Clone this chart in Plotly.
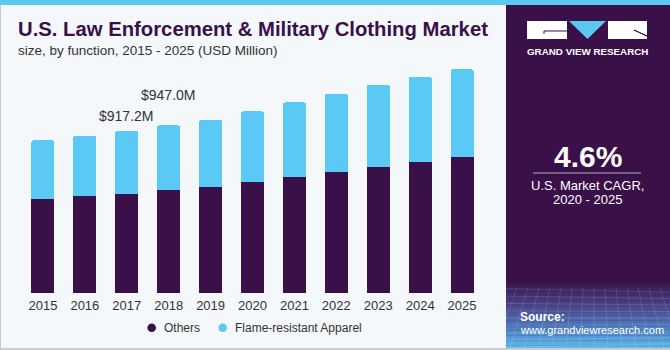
import plotly.graph_objects as go

# ---------------- data ----------------
years = ["2015", "2016", "2017", "2018", "2019", "2020", "2021", "2022", "2023", "2024", "2025"]
others = [531, 546, 561, 580, 599, 627, 657, 685, 714, 740, 766]
flame = [331, 343, 356, 367, 379, 399, 420, 441, 461, 481, 498]
series_names = ["Others", "Flame-resistant Apparel"]
label_years = ["2017", "2018"]
label_values = [917.2, 947.0]
label_texts = ["$917.2M", "$947.0M"]

# ---------------- style ----------------
PURPLE = "#3A1049"
BLUE = "#5BC9F5"
BG = "#F4F8FB"
FONT = "Liberation Sans"

W, H = 670, 350
L, R, T, B = 22, 483, 60, 293  # plot area in pixels
PW, PH = R - L, B - T
YMAX = PH * 5.651


def px(x):
    return (x - L) / PW


def py(y):
    return (B - y) / PH


fig = go.Figure()
fig.add_trace(go.Bar(x=years, y=others, name=series_names[0], marker=dict(color=PURPLE, line=dict(width=0)),
                     showlegend=False))
fig.add_trace(go.Bar(x=years, y=flame, name=series_names[1], marker=dict(color=BLUE, line=dict(width=0),
                     cornerradius=2), showlegend=False))

shapes = []
annotations = []

# top stripe
shapes.append(dict(type="rect", xref="paper", yref="paper", x0=px(0), x1=px(W), y0=py(5), y1=py(0),
                   fillcolor="#5BC8F0", line=dict(width=0), layer="below"))
# right panel
shapes.append(dict(type="rect", xref="paper", yref="paper", x0=px(506), x1=px(W), y0=py(348), y1=py(5),
                   fillcolor="#3A1049", line=dict(width=0), layer="below"))


# gradient at bottom of panel
def lerp(c1, c2, t):
    a = [int(c1[i:i + 2], 16) for i in (1, 3, 5)]
    b = [int(c2[i:i + 2], 16) for i in (1, 3, 5)]
    return "#%02x%02x%02x" % tuple(round(a[k] + (b[k] - a[k]) * t) for k in range(3))


g0, g1 = 283, 348
n = 26
stops = [(0.0, "#3C1650"), (0.35, "#4A4488"), (0.7, "#4E7EC0"), (1.0, "#5BBCEC")]
for i in range(n):
    t = (i + 0.5) / n
    for j in range(len(stops) - 1):
        if stops[j][0] <= t <= stops[j + 1][0]:
            tt = (t - stops[j][0]) / (stops[j + 1][0] - stops[j][0])
            c = lerp(stops[j][1], stops[j + 1][1], tt)
            break
    y0 = g0 + (g1 - g0) * i / n
    y1 = g0 + (g1 - g0) * (i + 1) / n + 0.3
    shapes.append(dict(type="rect", xref="paper", yref="paper", x0=px(506), x1=px(W), y0=py(y1), y1=py(y0),
                       fillcolor=c, line=dict(width=0), layer="below"))
# faint grid texture
for k in range(9):
    yy = 292 + k * 6.5
    shapes.append(dict(type="line", xref="paper", yref="paper", x0=px(506), x1=px(W), y0=py(yy + (k - 4) * 0.8),
                       y1=py(yy), line=dict(color="rgba(255,255,255,0.13)", width=1), layer="below"))
for k in range(16):
    xx = 506 + k * 11
    shapes.append(dict(type="line", xref="paper", yref="paper", x0=px(xx), x1=px(xx + (k - 8) * 3), y0=py(287),
                       y1=py(348), line=dict(color="rgba(255,255,255,0.12)", width=1), layer="below"))

# borders
shapes.append(dict(type="line", xref="paper", yref="paper", x0=px(0), x1=px(W), y0=py(349), y1=py(349),
                   line=dict(color="#C9CCCF", width=2)))
shapes.append(dict(type="line", xref="paper", yref="paper", x0=px(0.5), x1=px(0.5), y0=py(5), y1=py(350),
                   line=dict(color="#C9CCCF", width=1)))
# panel separator
shapes.append(dict(type="line", xref="paper", yref="paper", x0=px(533), x1=px(641), y0=py(173), y1=py(173),
                   line=dict(color="#B9A9C6", width=1)))

# logo
shapes.append(dict(type="rect", xref="paper", yref="paper", x0=px(527), x1=px(567), y0=py(39), y1=py(21),
                   fillcolor="white", line=dict(width=0)))
shapes.append(dict(type="path", xref="paper", yref="paper",
                   path="M %f,%f L %f,%f L %f,%f Z" % (px(569), py(21), px(606), py(21), px(587.5), py(39)),
                   fillcolor="#5BC8F0", line=dict(width=0)))
shapes.append(dict(type="rect", xref="paper", yref="paper", x0=px(608), x1=px(647), y0=py(39), y1=py(21),
                   fillcolor="white", line=dict(width=0)))
shapes.append(dict(type="path", xref="paper", yref="paper",
                   path="M %f,%f L %f,%f L %f,%f" % (px(544), py(34), px(544), py(31), px(567), py(31)),
                   line=dict(color=PURPLE, width=1)))
shapes.append(dict(type="path", xref="paper", yref="paper",
                   path="M %f,%f L %f,%f L %f,%f" % (px(634), py(30), px(647), py(36), px(634), py(30)),
                   line=dict(color=PURPLE, width=1)))

# legend (manual)
leg_cols = [PURPLE, BLUE]
leg_marker_x = [151.7, 222.7]
for name, col, mx in zip(series_names, leg_cols, leg_marker_x):
    shapes.append(dict(type="circle", xref="paper", yref="paper", x0=px(mx - 4.3), x1=px(mx + 4.3),
                       y0=py(332), y1=py(323.4), fillcolor=col, line=dict(width=0)))
    annotations.append(dict(xref="paper", yref="paper", x=px(mx + 10), y=py(327.7), text=name, showarrow=False,
                            xanchor="left", yanchor="middle", font=dict(family=FONT, size=12, color="#333333")))

# value labels
for yr, v, txt, sh in zip(label_years, label_values, label_texts, [14.3, 30.7]):
    annotations.append(dict(x=years.index(yr), y=v, xref="x", yref="y", text=txt, showarrow=False,
                            yanchor="middle", yshift=sh, xshift=-0.5,
                            font=dict(family=FONT, size=14, color="#333333")))

# titles
annotations.append(dict(xref="paper", yref="paper", x=px(16), y=py(29), xanchor="left", yanchor="middle",
                        text="<b>U.S. Law Enforcement & Military Clothing Market</b>", showarrow=False,
                        font=dict(family=FONT, size=20.3, color=PURPLE)))
annotations.append(dict(xref="paper", yref="paper", x=px(16), y=py(50), xanchor="left", yanchor="middle",
                        text="size, by function, 2015 - 2025 (USD Million)", showarrow=False,
                        font=dict(family=FONT, size=13.5, color="#333333")))

# panel texts
annotations.append(dict(xref="paper", yref="paper", x=px(587), y=py(51), xanchor="center", yanchor="middle",
                        text="<b>GRAND VIEW RESEARCH</b>", showarrow=False,
                        font=dict(family=FONT, size=9.8, color="white")))
annotations.append(dict(xref="paper", yref="paper", x=px(587.5), y=py(156), xanchor="center", yanchor="middle",
                        text="<b>4.6%</b>", showarrow=False, font=dict(family=FONT, size=30, color="white")))
annotations.append(dict(xref="paper", yref="paper", x=px(587.5), y=py(185), xanchor="center", yanchor="middle",
                        text="U.S. Market CAGR,", showarrow=False, font=dict(family=FONT, size=13, color="white")))
annotations.append(dict(xref="paper", yref="paper", x=px(587.5), y=py(200), xanchor="center", yanchor="middle",
                        text="2020 - 2025", showarrow=False, font=dict(family=FONT, size=13, color="white")))
annotations.append(dict(xref="paper", yref="paper", x=px(518), y=py(317), xanchor="left", yanchor="middle",
                        text="<b>Source:</b>", showarrow=False, font=dict(family=FONT, size=12, color="white")))
annotations.append(dict(xref="paper", yref="paper", x=px(518), y=py(330), xanchor="left", yanchor="middle",
                        text="www.grandviewresearch.com", showarrow=False,
                        font=dict(family=FONT, size=11, color="white")))

fig.update_layout(
    width=W, height=H,
    margin=dict(l=L, r=W - R, t=T, b=H - B, pad=0),
    paper_bgcolor=BG, plot_bgcolor="rgba(0,0,0,0)",
    barmode="stack", bargap=0.45,
    showlegend=False,
    shapes=shapes, annotations=annotations,
    xaxis=dict(type="category", range=[-0.5, len(years) - 0.5], autorange=False, showgrid=False,
               zeroline=False, showline=False, ticks="", ticklabelstandoff=3,
               tickfont=dict(family=FONT, size=13, color="#333333"), fixedrange=True),
    yaxis=dict(range=[0, YMAX], autorange=False, showgrid=False, zeroline=False, showline=False,
               showticklabels=False, fixedrange=True),
)

fig.write_html("out.html", config={"displayModeBar": False})
